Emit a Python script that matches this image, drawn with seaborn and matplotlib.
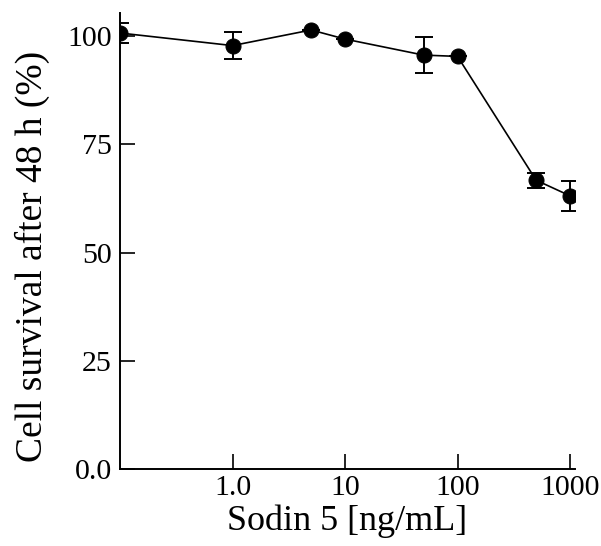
import matplotlib
matplotlib.use("Agg")
import matplotlib.pyplot as plt
import seaborn as sns
import pandas as pd

concentrations = [0.1, 1.0, 5, 10, 50, 100, 500, 1000]
survival = [100.7, 97.8, 101.4, 99.3, 95.6, 95.3, 66.7, 63.1]
errors = [2.3, 3.1, 0.0, 0.0, 4.1, 0.0, 1.7, 3.5]
xtick_values = [1, 10, 100, 1000]
xtick_labels = ["1.0", "10", "100", "1000"]
ytick_values = [0, 25, 50, 75, 100]
ytick_labels = ["0.0", "25", "50", "75", "100"]

df = pd.DataFrame({"conc": concentrations, "surv": survival, "err": errors})

sns.set_theme(style="ticks")
plt.rcParams["font.family"] = ["Liberation Serif", "DejaVu Serif"]

fig = plt.figure(figsize=(6.01, 5.46), dpi=100)
ax = fig.add_axes([0.1997, 0.141, 0.757, 0.835])

ax.errorbar(df["conc"], df["surv"], yerr=df["err"], fmt="none",
            ecolor="black", elinewidth=1.4, capsize=6.5, capthick=1.4, zorder=2)
sns.lineplot(data=df, x="conc", y="surv", ax=ax, color="black", linewidth=1.2,
             marker="o", markersize=10.8, markeredgecolor="black",
             markerfacecolor="black", zorder=3)

ax.set_xscale("log")
ax.set_xlim(0.1, 1107)
ax.set_ylim(0, 105.3)
ax.set_xticks(xtick_values)
ax.set_xticklabels(xtick_labels)
ax.set_yticks(ytick_values)
ax.set_yticklabels(ytick_labels)
ax.xaxis.set_minor_locator(matplotlib.ticker.NullLocator())
ax.tick_params(axis="both", which="major", direction="in", length=10.5,
               width=1.2, labelsize=21.5, color="black", labelcolor="black", pad=6)
ax.tick_params(axis="x", pad=4)
for s in ["top", "right"]:
    ax.spines[s].set_visible(False)
for s in ["left", "bottom"]:
    ax.spines[s].set_linewidth(1.4)
    ax.spines[s].set_color("black")

ax.set_xlabel("Sodin 5 [ng/mL]", fontsize=26, color="black")
ax.set_ylabel("Cell survival after 48 h (%)", fontsize=27, color="black")
ax.xaxis.set_label_coords(0.5, -0.078)
ax.yaxis.set_label_coords(-0.155, 0.467)

fig.savefig("out.png", dpi=100)
